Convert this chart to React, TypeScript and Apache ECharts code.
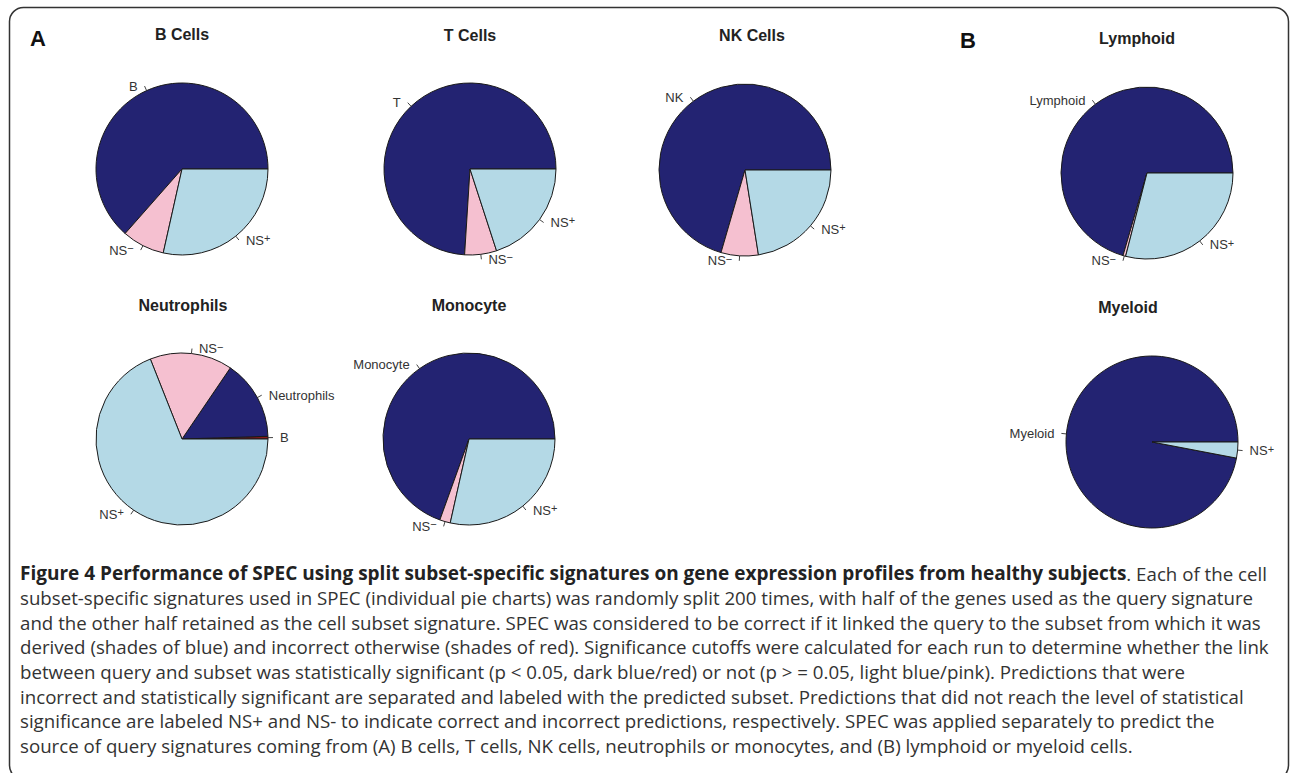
import React, { useEffect, useRef } from "react";
import * as echarts from "echarts";

// Outcome of 200 random splits per cell-subset signature
const bCellLabels = ["B", "NS-", "NS+"];
const bCellValues = [127, 16, 57];

const tCellLabels = ["T", "NS-", "NS+"];
const tCellValues = [148, 12, 40];

const nkCellLabels = ["NK", "NS-", "NS+"];
const nkCellValues = [141, 14, 45];

const neutrophilLabels = ["B", "Neutrophils", "NS-", "NS+"];
const neutrophilValues = [1, 30, 31, 138];

const monocyteLabels = ["Monocyte", "NS-", "NS+"];
const monocyteValues = [139, 4, 57];

const lymphoidLabels = ["Lymphoid", "NS-", "NS+"];
const lymphoidValues = [141, 1, 58];

const myeloidLabels = ["Myeloid", "NS+"];
const myeloidValues = [194, 6];

const captionLines = [
  "subset-specific signatures used in SPEC (individual pie charts) was randomly split 200 times, with half of the genes used as the query signature",
  "and the other half retained as the cell subset signature. SPEC was considered to be correct if it linked the query to the subset from which it was",
  "derived (shades of blue) and incorrect otherwise (shades of red). Significance cutoffs were calculated for each run to determine whether the link",
  "between query and subset was statistically significant (p < 0.05, dark blue/red) or not (p > = 0.05, light blue/pink). Predictions that were",
  "incorrect and statistically significant are separated and labeled with the predicted subset. Predictions that did not reach the level of statistical",
  "significance are labeled NS+ and NS- to indicate correct and incorrect predictions, respectively. SPEC was applied separately to predict the",
  "source of query signatures coming from (A) B cells, T cells, NK cells, neutrophils or monocytes, and (B) lymphoid or myeloid cells.",
];
const captionBold =
  "Figure 4 Performance of SPEC using split subset-specific signatures on gene expression profiles from healthy subjects";
const captionRest = ". Each of the cell";

const DARK_BLUE = "#232372";
const LIGHT_BLUE = "#b4d9e6";
const PINK = "#f5c0d0";
const DARK_RED = "#8b1a1a";

type Panel = {
  title: string;
  own: string;
  labels: string[];
  values: number[];
  center: [number, number];
  titlePos: [number, number];
};

const panels: Panel[] = [
  { title: "B Cells", own: "B", labels: bCellLabels, values: bCellValues, center: [182, 169], titlePos: [182, 34] },
  { title: "T Cells", own: "T", labels: tCellLabels, values: tCellValues, center: [470, 169], titlePos: [470, 35] },
  { title: "NK Cells", own: "NK", labels: nkCellLabels, values: nkCellValues, center: [745, 170], titlePos: [752, 35] },
  { title: "Lymphoid", own: "Lymphoid", labels: lymphoidLabels, values: lymphoidValues, center: [1147, 173], titlePos: [1137, 38] },
  { title: "Neutrophils", own: "Neutrophils", labels: neutrophilLabels, values: neutrophilValues, center: [182, 439], titlePos: [183, 305] },
  { title: "Monocyte", own: "Monocyte", labels: monocyteLabels, values: monocyteValues, center: [469, 439], titlePos: [469, 305] },
  { title: "Myeloid", own: "Myeloid", labels: myeloidLabels, values: myeloidValues, center: [1152, 442], titlePos: [1128, 307] },
];

const RADIUS = 86;
const LABEL_FONT = "Liberation Sans, Arial, sans-serif";

function sliceColor(label: string, own: string): string {
  if (label === own) return DARK_BLUE;
  if (label === "NS+") return LIGHT_BLUE;
  if (label === "NS-") return PINK;
  return DARK_RED;
}

function labelText(name: string): string {
  if (name === "NS+") return "{n|NS}{s|+}";
  if (name === "NS-") return "{n|NS}{s|\u2212}";
  return "{n|" + name + "}";
}

export default function App() {
  const ref = useRef<HTMLDivElement>(null);

  useEffect(() => {
    if (!ref.current) return;
    const chart = echarts.init(ref.current, null, { renderer: "svg" });

    const series = panels.map((p) => ({
      type: "pie",
      center: p.center,
      radius: RADIUS,
      startAngle: 0,
      clockwise: false,
      avoidLabelOverlap: false,
      silent: true,
      itemStyle: { borderColor: "#1a1a1a", borderWidth: 1 },
      label: {
        show: true,
        position: "outside",
        distanceToLabelLine: 7,
        formatter: (params: any) => labelText(params.name),
        rich: {
          n: { fontSize: 13, fontFamily: LABEL_FONT, color: "#333", lineHeight: 15 },
          s: { fontSize: 11, fontFamily: LABEL_FONT, color: "#333", lineHeight: 7, verticalAlign: "top" },
        },
      },
      labelLine: {
        show: true,
        length: 5,
        length2: 0,
        smooth: false,
        lineStyle: { color: "#444", width: 1 },
      },
      emphasis: { disabled: true },
      data: p.labels.map((name, i) => ({
        name,
        value: p.values[i],
        itemStyle: { color: sliceColor(name, p.own) },
      })),
    }));

    const titles = panels.map((p) => ({
      type: "text",
      x: p.titlePos[0],
      y: p.titlePos[1],
      style: {
        text: p.title,
        fill: "#222",
        font: "bold 16px " + LABEL_FONT,
        textAlign: "center",
        textVerticalAlign: "middle",
      },
    }));

    const captionFont = "'Open Sans', Lato, sans-serif";
    const captionSize = 18.7;
    const lineTop = 573;
    const lineStep = 24.6;

    const caption = [
      {
        type: "text",
        x: 20,
        y: lineTop,
        style: {
          text: "{b|" + captionBold + "}{r|" + captionRest + "}",
          textVerticalAlign: "middle",
          rich: {
            b: { fontFamily: captionFont, fontSize: 19, fontWeight: "bold", fill: "#222" },
            r: { fontFamily: captionFont, fontSize: captionSize, fill: "#333" },
          },
        },
      },
      ...captionLines.map((line, i) => ({
        type: "text",
        x: 20,
        y: lineTop + lineStep * (i + 1),
        style: {
          text: line,
          fill: "#333",
          font: captionSize + "px " + captionFont,
          textVerticalAlign: "middle",
        },
      })),
    ];

    chart.setOption({
      animation: false,
      backgroundColor: "#ffffff",
      series,
      graphic: [
        {
          type: "rect",
          shape: { x: 9.5, y: 7.5, width: 1279, height: 772, r: 14 },
          style: { fill: "none", stroke: "#333", lineWidth: 1.5 },
          silent: true,
        },
        {
          type: "text",
          x: 30,
          y: 38,
          style: { text: "A", font: "bold 22px " + LABEL_FONT, fill: "#111", textVerticalAlign: "middle" },
        },
        {
          type: "text",
          x: 960,
          y: 40,
          style: { text: "B", font: "bold 22px " + LABEL_FONT, fill: "#111", textVerticalAlign: "middle" },
        },
        ...titles,
        ...caption,
      ],
    });

    return () => chart.dispose();
  }, []);

  return (
    <div
      ref={ref}
      style={{ position: "absolute", left: 0, top: 0, width: 1290, height: 773 }}
    />
  );
}
